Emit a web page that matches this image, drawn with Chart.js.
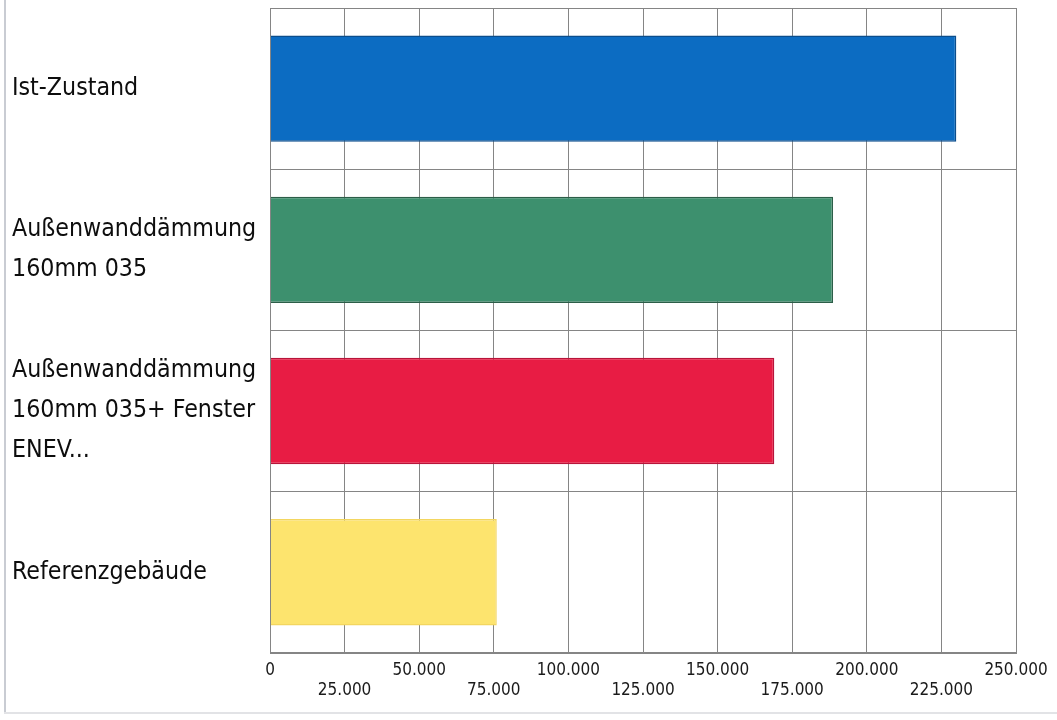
<!DOCTYPE html>
<html>
<head>
<meta charset="utf-8">
<script src="https://cdn.jsdelivr.net/npm/chart.js@4"></script>
<style>
  html, body { margin: 0; padding: 0; background: #fff; }
  #wrap { position: relative; width: 1057px; height: 720px; }
  #edgeL { position: absolute; left: 4px; top: 0; width: 2px; height: 714px; background: #c9ccd3; }
  #edgeB { position: absolute; left: 4px; top: 712px; width: 1053px; height: 2px; background: #e2e3e6; }
</style>
</head>
<body>
<div id="wrap">
  <canvas id="c" width="1057" height="720"></canvas>
  <div id="edgeL"></div>
  <div id="edgeB"></div>
</div>
<script>
const categories = [
  'Ist-Zustand',
  ['Außenwanddämmung', '160mm 035'],
  ['Außenwanddämmung', '160mm 035+ Fenster', 'ENEV...'],
  'Referenzgebäude'
];
const values = [230000, 188700, 169000, 76000];
const barColors = ['#0c6cc2', '#3d906e', '#e81c44', '#fde46e'];
const barBorders = ['#0b4d8c', '#2c5e48', '#b8143a', '#f3d660'];
const tickValues = [0, 25000, 50000, 75000, 100000, 125000, 150000, 175000, 200000, 225000, 250000];
const tickLabels = ['0', '25.000', '50.000', '75.000', '100.000', '125.000', '150.000', '175.000', '200.000', '225.000', '250.000'];

const FONT = "'DejaVu Sans Condensed', 'DejaVu Sans', sans-serif";

new Chart(document.getElementById('c'), {
  type: 'bar',
  data: {
    labels: categories,
    datasets: [{
      data: values,
      backgroundColor: barColors,
      borderColor: barBorders,
      borderWidth: 1.5,
      barPercentage: 0.66,
      categoryPercentage: 1.0
    }]
  },
  options: {
    indexAxis: 'y',
    responsive: false,
    animation: false,
    layout: { padding: { left: 12, right: 41, top: 8, bottom: 12 } },
    plugins: { legend: { display: false }, tooltip: { enabled: false } },
    scales: {
      x: {
        min: 0, max: 250000,
        afterBuildTicks: (scale) => { scale.ticks = tickValues.map(v => ({ value: v })); },
        afterFit: (scale) => { scale.paddingLeft = 0; scale.paddingRight = 0; },
        ticks: {
          autoSkip: false,
          maxRotation: 0,
          color: '#1a1a1a',
          padding: 8,
          font: { family: FONT, size: 17, lineHeight: 1.15 },
          callback: (v) => {
            const idx = tickValues.indexOf(v);
            const t = idx >= 0 ? tickLabels[idx] : '';
            return idx % 2 === 0 ? [t, ''] : ['', t];
          }
        },
        grid: { color: '#858585', lineWidth: 1, drawTicks: false },
        border: { color: '#858585' }
      },
      y: {
        afterFit: (scale) => { scale.width = 258; scale.paddingTop = 0; scale.paddingBottom = 0; },
        ticks: {
          crossAlign: 'far',
          color: '#0d0d0d',
          padding: 0,
          font: { family: FONT, size: 24.7, lineHeight: 1.62 }
        },
        grid: { color: '#858585', lineWidth: 1, drawTicks: false, offset: true },
        border: { color: '#858585' }
      }
    }
  },
  plugins: [{
    id: 'frame',
    afterDraw(chart) {
      const { ctx, chartArea: a } = chart;
      ctx.save();
      ctx.strokeStyle = '#858585';
      ctx.lineWidth = 1;
      ctx.strokeRect(Math.round(a.left) + 0.5, Math.round(a.top) + 0.5, Math.round(a.right - a.left), Math.round(a.bottom - a.top));
      ctx.restore();
    }
  }]
});
</script>
</body>
</html>
